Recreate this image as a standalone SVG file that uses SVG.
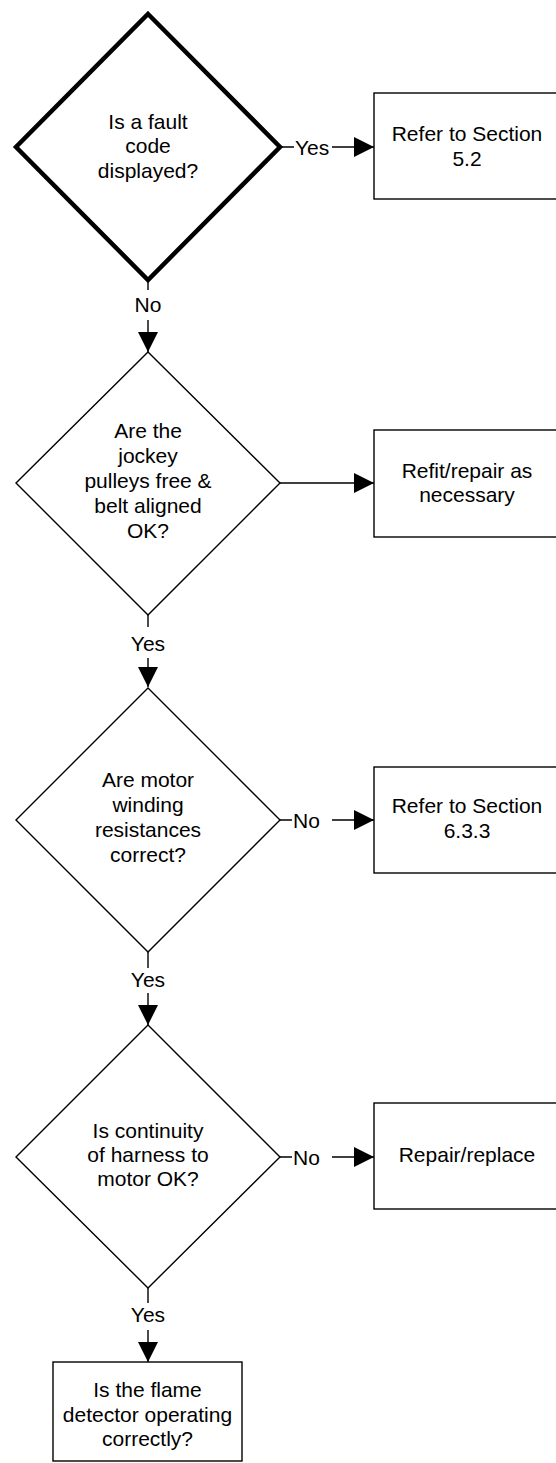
<svg xmlns="http://www.w3.org/2000/svg" width="556" height="1463" viewBox="0 0 556 1463">
<defs>
<style>
text{font-family:"Liberation Sans",Arial,sans-serif;font-size:21px;fill:#000;}
.c{text-anchor:middle;}
.d{fill:#fff;stroke:#000;stroke-width:1.4;}
.d1{fill:#fff;stroke:#000;stroke-width:4.5;stroke-linejoin:miter;}
.b{fill:#fff;stroke:#000;stroke-width:1.4;}
.e{fill:none;stroke:#000;stroke-width:1.4;}
</style>
<marker id="ah" markerUnits="userSpaceOnUse" markerWidth="20" markerHeight="20" refX="20" refY="10" orient="auto" viewBox="0 0 20 20">
<path d="M0,0 L20,10 L0,20 Z" fill="#000"/>
</marker>
</defs>
<rect width="556" height="1463" fill="#fff"/>

<g id="connectors">
<path class="e" d="M280,147 H294 M332,147 H374" marker-end="url(#ah)"/>
<text x="295" y="154.5">Yes</text>
<path class="e" d="M148,280 V290 M148,320 V352" marker-end="url(#ah)"/>
<text class="c" x="148" y="311.5">No</text>
<path class="e" d="M280,483 H374" marker-end="url(#ah)"/>
<path class="e" d="M148,615 V627 M148,658 V687" marker-end="url(#ah)"/>
<text class="c" x="148" y="650.5">Yes</text>
<path class="e" d="M280,820 H292 M332,820 H374" marker-end="url(#ah)"/>
<text x="293" y="827.5">No</text>
<path class="e" d="M148,952 V968 M148,993 V1025" marker-end="url(#ah)"/>
<text class="c" x="148" y="987">Yes</text>
<path class="e" d="M280,1157 H292 M332,1157 H374" marker-end="url(#ah)"/>
<text x="293" y="1164.5">No</text>
<path class="e" d="M148,1288 V1303 M148,1330 V1362" marker-end="url(#ah)"/>
<text class="c" x="148" y="1322">Yes</text>
</g>

<g id="q1">
<polygon class="d1" points="148,14 280,147 148,280 16,147"/>
<text class="c" x="148" y="129">Is a fault</text>
<text class="c" x="148" y="153">code</text>
<text class="c" x="148" y="178">displayed?</text>
</g>
<g id="r1">
<rect class="b" x="374" y="93" width="200" height="106"/>
<text class="c" x="467" y="141">Refer to Section</text>
<text class="c" x="467" y="166">5.2</text>
</g>

<g id="q2">
<polygon class="d" points="148,352 280,483 148,615 16,483"/>
<text class="c" x="148" y="438">Are the</text>
<text class="c" x="148" y="463">jockey</text>
<text class="c" x="148" y="488">pulleys free &amp;</text>
<text class="c" x="148" y="513">belt aligned</text>
<text class="c" x="148" y="538">OK?</text>
</g>
<g id="r2">
<rect class="b" x="374" y="430" width="200" height="107"/>
<text class="c" x="467" y="478">Refit/repair as</text>
<text class="c" x="467" y="502">necessary</text>
</g>

<g id="q3">
<polygon class="d" points="148,688 280,820 148,952 16,820"/>
<text class="c" x="148" y="787">Are motor</text>
<text class="c" x="148" y="812">winding</text>
<text class="c" x="148" y="837">resistances</text>
<text class="c" x="148" y="862">correct?</text>
</g>
<g id="r3">
<rect class="b" x="374" y="767" width="200" height="106"/>
<text class="c" x="467" y="813">Refer to Section</text>
<text class="c" x="467" y="838">6.3.3</text>
</g>

<g id="q4">
<polygon class="d" points="148,1025 280,1157 148,1288 16,1157"/>
<text class="c" x="148" y="1138">Is continuity</text>
<text class="c" x="148" y="1162">of harness to</text>
<text class="c" x="148" y="1186">motor OK?</text>
</g>
<g id="r4">
<rect class="b" x="374" y="1103" width="200" height="106"/>
<text class="c" x="467" y="1162">Repair/replace</text>
</g>

<g id="q5">
<rect class="b" x="53" y="1362" width="189" height="99"/>
<text class="c" x="147.5" y="1397">Is the flame</text>
<text class="c" x="147.5" y="1422">detector operating</text>
<text class="c" x="147.5" y="1446">correctly?</text>
</g>
</svg>
